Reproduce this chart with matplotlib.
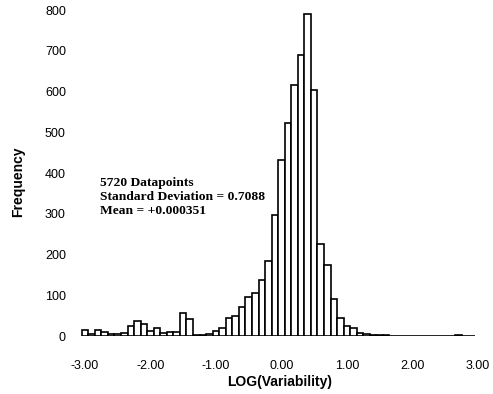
import numpy as np
import matplotlib
matplotlib.use("Agg")
import matplotlib.pyplot as plt

# bin centres (width 0.1) and counts
bin_centers = np.round(np.arange(-3.0, 2.95, 0.1), 1)
counts = [14, 5, 15, 11, 4, 4, 8, 24, 37, 30,      # -3.0 .. -2.1
          12, 20, 8, 11, 11, 57, 41, 2, 2, 4,       # -2.0 .. -1.1
          12, 20, 45, 50, 71, 96, 105, 137, 185, 298,  # -1.0 .. -0.1
          432, 522, 617, 690, 790, 603, 226, 175, 90, 45,  # 0.0 .. 0.9
          24, 19, 8, 4, 3, 2, 2, 1, 1, 1,           # 1.0 .. 1.9
          1, 1, 1, 1, 1, 1, 1, 2, 1, 1]             # 2.0 .. 2.9

xticks = [-3, -2, -1, 0, 1, 2, 3]
xtick_labels = ["-3.00", "-2.00", "-1.00", "0.00", "1.00", "2.00", "3.00"]
yticks = [0, 100, 200, 300, 400, 500, 600, 700, 800]

stats_text = "5720 Datapoints\nStandard Deviation = 0.7088\nMean = +0.000351"

plt.rcParams['font.family'] = ['Liberation Sans', 'DejaVu Sans']

fig = plt.figure(figsize=(4.93, 3.94), dpi=100)
ax = fig.add_axes([0.159, 0.147, 0.8237, 0.8274])

# histogram bars
ax.bar(bin_centers, counts, width=0.1, color='white', edgecolor='black',
       linewidth=1.2, align='center')

ax.set_xlim(-3.1, 3.1)
ax.set_ylim(0, 800)

ax.set_xticks(xticks)
ax.set_xticklabels(xtick_labels)
ax.set_yticks(yticks)
ax.tick_params(axis='both', length=0, labelsize=9)
ax.tick_params(axis='y', pad=9)
ax.tick_params(axis='x', pad=17)

for spine in ax.spines.values():
    spine.set_visible(False)

# axis titles
ax.set_xlabel("LOG(Variability)", fontsize=10, fontweight='bold')
ax.xaxis.set_label_coords(0.496, -0.12)
ax.set_ylabel("Frequency", fontsize=10, fontweight='bold')
ax.yaxis.set_label_coords(-0.132, 0.472)

# statistics text
ax.text(-2.77, 390, stats_text, fontsize=9.7, fontweight='bold',
        family=['Liberation Serif', 'DejaVu Serif'], va='top', ha='left',
        linespacing=1.2)

plt.savefig("out.png", dpi=100)
